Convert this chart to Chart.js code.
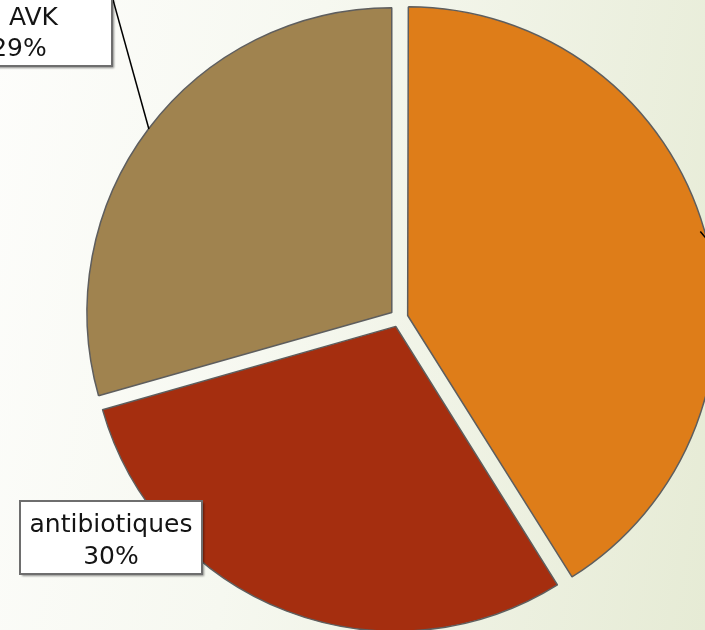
<!DOCTYPE html>
<html>
<head>
<meta charset="utf-8">
<script src="https://cdn.jsdelivr.net/npm/chart.js@4/dist/chart.umd.min.js"></script>
<style>
  html, body { margin: 0; padding: 0; }
  body {
    width: 705px; height: 630px; overflow: hidden;
    background: linear-gradient(100deg, #fdfdfb 0%, #f6f8f0 40%, #e6ebd5 100%);
  }
  canvas { display: block; }
</style>
</head>
<body>
<canvas id="c" width="705" height="630"></canvas>
<script>
const categories = ['Autres', 'antibiotiques', 'AVK'];
const values = [41.1, 29.5, 29.4];
const colors = ['#DE7D19', '#A52E0F', '#A0834F'];

const explode = 36; // Chart.js v4 translates by offset/4

const labelPlugin = {
  id: 'boxLabels',
  afterDatasetsDraw(chart) {
    const ctx = chart.ctx;
    const meta = chart.getDatasetMeta(0);
    const total = values.reduce((a, b) => a + b, 0);
    const pct = values.map(v => Math.round(v / total * 100) + '%');

    function anchor(i) {
      const a = meta.data[i];
      const mid = (a.startAngle + a.endAngle) / 2;
      const t = explode / 4;
      const r = a.outerRadius;
      return { x: a.x + Math.cos(mid) * (t + r), y: a.y + Math.sin(mid) * (t + r) };
    }

    ctx.save();
    ctx.strokeStyle = '#000';
    ctx.lineWidth = 1.5;
    const pA = anchor(2);
    ctx.beginPath(); ctx.moveTo(pA.x, pA.y); ctx.lineTo(110.3, -10); ctx.stroke();
    const pO = anchor(0);
    ctx.beginPath(); ctx.moveTo(pO.x, pO.y); ctx.lineTo(pO.x + 20, pO.y + 24); ctx.stroke();

    function box(x, y, w, h) {
      ctx.save();
      ctx.shadowColor = 'rgba(0,0,0,0.45)';
      ctx.shadowBlur = 2;
      ctx.shadowOffsetX = 1.5;
      ctx.shadowOffsetY = 1.5;
      ctx.fillStyle = '#ffffff';
      ctx.fillRect(x, y, w, h);
      ctx.restore();
      ctx.strokeStyle = '#6e6e6e';
      ctx.lineWidth = 2;
      ctx.strokeRect(x, y, w, h);
    }

    box(-75, -10, 187, 76);
    box(20, 501, 182, 73);

    ctx.fillStyle = '#141414';
    ctx.font = '25px "DejaVu Sans"';
    ctx.textBaseline = 'alphabetic';
    ctx.textAlign = 'right';
    ctx.fillText(categories[2], 58, 25);
    ctx.textAlign = 'center';
    ctx.fillText(pct[2], 19, 56);
    ctx.fillText(categories[1], 111, 532);
    ctx.fillText(pct[1], 111, 564);
    ctx.restore();
  }
};

new Chart(document.getElementById('c'), {
  type: 'pie',
  data: {
    labels: categories,
    datasets: [{
      data: values,
      backgroundColor: colors,
      borderColor: '#5e5e5e',
      borderWidth: 1.5,
      offset: explode
    }]
  },
  options: {
    responsive: false,
    animation: false,
    radius: 304.5,
    layout: { padding: { left: 93, top: 6, right: 0, bottom: 0 } },
    plugins: { legend: { display: false }, tooltip: { enabled: false } }
  },
  plugins: [labelPlugin]
});
</script>
</body>
</html>
